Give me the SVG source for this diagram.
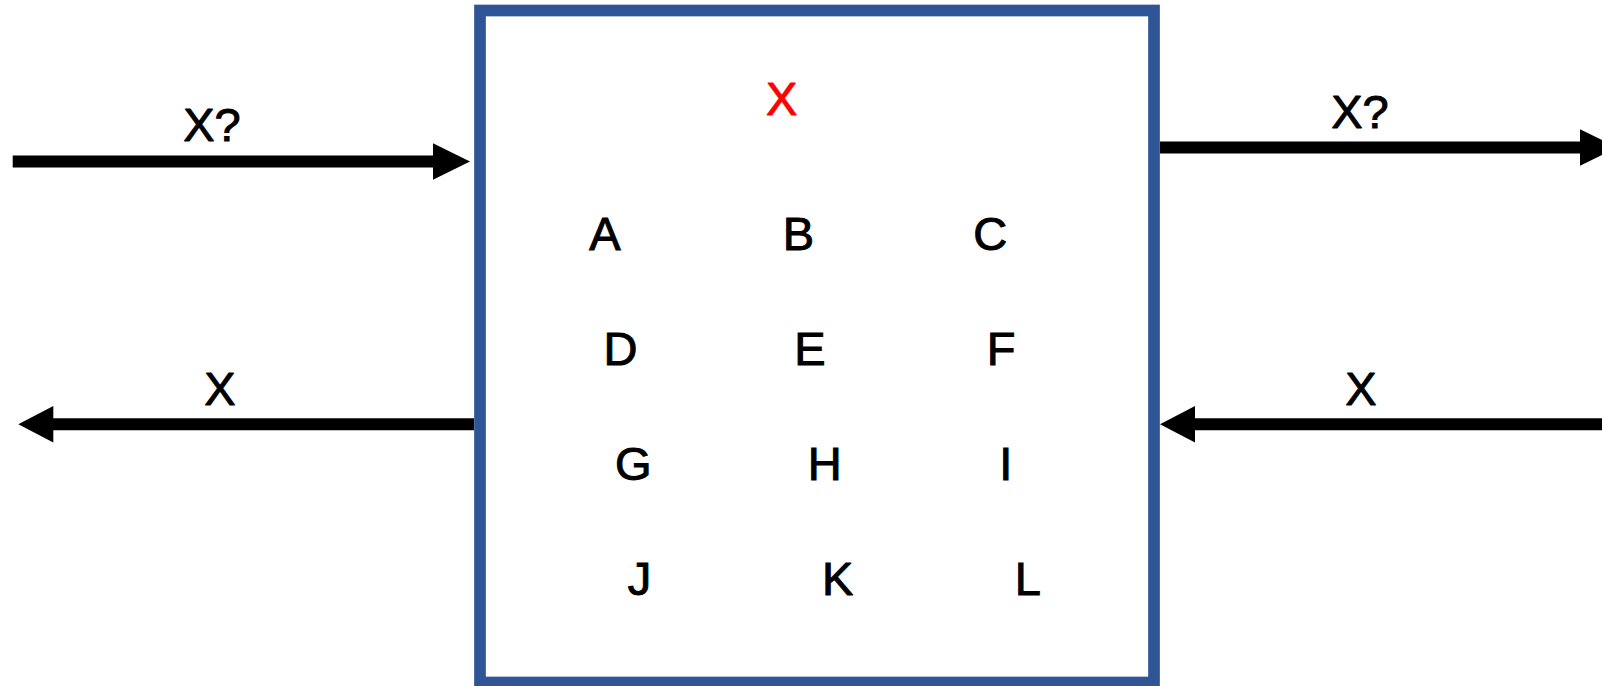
<svg xmlns="http://www.w3.org/2000/svg" width="1602" height="686" viewBox="0 0 1602 686">
<style>
  .lbl { font-family: "Liberation Sans", Arial, sans-serif; font-size: 47px; fill: #000; stroke: #000; stroke-width: 1px; stroke-linejoin: miter; stroke-miterlimit: 2; text-anchor: middle; }
  .red { fill: #FF0000; stroke: #FF0000; }
  .line { stroke: #000; stroke-width: 12; fill: none; }
  .head { fill: #000; stroke: none; }
  .box { fill: #FFFFFF; stroke: #2F5597; stroke-width: 11.7; }
</style>
<rect x="0" y="0" width="1602" height="686" fill="#FFFFFF"/>
<g id="box">
  <rect class="box" x="480" y="10.5" width="674" height="672"/>
  <text class="lbl red" x="781.7" y="115">X</text>
</g>
<g id="cells">
  <text id="A" class="lbl" x="605" y="250">A</text>
  <text id="B" class="lbl" x="798.5" y="250">B</text>
  <text id="C" class="lbl" x="990.3" y="250">C</text>
  <text id="D" class="lbl" x="620.5" y="365">D</text>
  <text id="E" class="lbl" x="810" y="365">E</text>
  <text id="F" class="lbl" x="1001" y="365">F</text>
  <text id="G" class="lbl" x="633.3" y="480">G</text>
  <text id="H" class="lbl" x="824.7" y="480">H</text>
  <text id="I" class="lbl" x="1005.8" y="480">I</text>
  <text id="J" class="lbl" x="639.6" y="594.6">J</text>
  <text id="K" class="lbl" x="837.8" y="594.6">K</text>
  <text id="L" class="lbl" x="1027.8" y="594.6">L</text>
</g>
<g id="connectors">
  <g id="in-left">
    <line class="line" x1="12.7" y1="161.5" x2="434" y2="161.5"/>
    <polygon class="head" points="433,143.2 470,161.5 433,179.8"/>
    <text class="lbl" x="212" y="140.7">X?</text>
  </g>
  <g id="out-right">
    <line class="line" x1="1160" y1="147.5" x2="1581" y2="147.5"/>
    <polygon class="head" points="1580,129.2 1617,147.5 1580,165.8"/>
    <text class="lbl" x="1360" y="128">X?</text>
  </g>
  <g id="out-left">
    <line class="line" x1="474" y1="424.2" x2="52" y2="424.2"/>
    <polygon class="head" points="53.3,405.9 18.3,424.2 53.3,442.5"/>
    <text class="lbl" x="220" y="404.5">X</text>
  </g>
  <g id="in-right">
    <line class="line" x1="1602" y1="424.2" x2="1194" y2="424.2"/>
    <polygon class="head" points="1195,405.9 1160,424.2 1195,442.5"/>
    <text class="lbl" x="1361" y="404.5">X</text>
  </g>
</g>
</svg>
